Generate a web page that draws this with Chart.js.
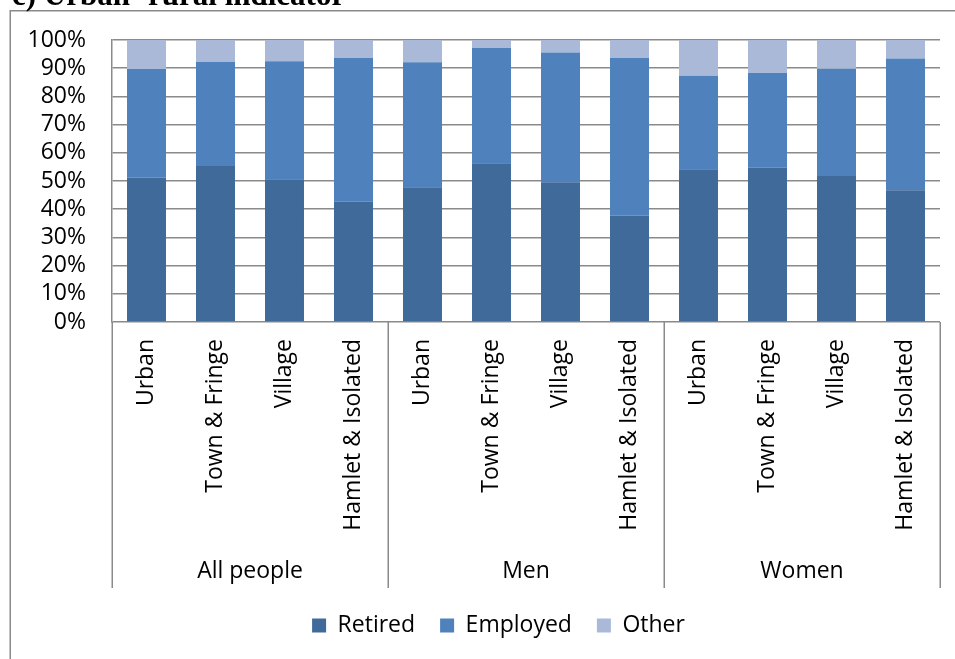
<!DOCTYPE html>
<html><head><meta charset="utf-8">
<script src="https://cdn.jsdelivr.net/npm/chart.js@4/dist/chart.umd.min.js"></script>
<style>html,body{margin:0;padding:0;background:#fff}canvas{display:block}</style>
</head><body>
<canvas id="c" width="955" height="659"></canvas>
<script>
const chartTitle = 'c) Urban- rural indicator';
const categories = ['Urban','Town & Fringe','Village','Hamlet & Isolated',
                    'Urban','Town & Fringe','Village','Hamlet & Isolated',
                    'Urban','Town & Fringe','Village','Hamlet & Isolated'];
const groups = ['All people','Men','Women'];
const seriesNames = ['Retired','Employed','Other'];
const retired  = [51.2,55.3,50.6,42.6, 47.8,56.3,49.6,37.8, 54.2,54.7,51.8,46.7];
const employed = [38.5,36.9,41.9,51.0, 44.3,40.9,46.0,55.8, 33.1,33.6,38.0,46.7];
const other    = [10.3, 7.8, 7.5, 6.4,  7.9, 2.8, 4.4, 6.4, 12.7,11.7,10.2, 6.6];
const yMin = 0, yMax = 100, yStep = 10;

const colors = ['#3F6A9A','#4F81BD','#AAB9D7'];
const gray = '#8a8a8a';

Chart.defaults.font.family = '"Open Sans", "Noto Sans", sans-serif';
Chart.defaults.font.size = 23;
Chart.defaults.color = '#000';

const frame = {
  id: 'frame',
  afterLayout(chart) {
    // centre the legend row under the reference position
    chart.legend.left += 24;
    chart.legend.right += 24;
  },
  beforeDraw(chart) {
    const ctx = chart.ctx;
    ctx.save();
    ctx.fillStyle = '#fff';
    ctx.fillRect(0, 0, chart.width, chart.height);
    ctx.strokeStyle = gray;
    ctx.lineWidth = 1.5;
    ctx.beginPath();
    ctx.moveTo(10.25, chart.height);
    ctx.lineTo(10.25, 10.75);
    ctx.lineTo(chart.width, 10.75);
    ctx.stroke();
    ctx.fillStyle = '#000';
    ctx.font = 'bold 31px "Liberation Serif", "DejaVu Serif", serif';
    ctx.textBaseline = 'alphabetic';
    ctx.textAlign = 'left';
    ctx.fillText(chartTitle, 12, 5);
    ctx.restore();
  },
  afterDraw(chart) {
    const x = chart.scales.x, x2 = chart.scales.x2, ctx = chart.ctx;
    const per = categories.length / groups.length;
    ctx.save();
    ctx.strokeStyle = gray;
    ctx.lineWidth = 1.5;
    ctx.beginPath();
    for (let g = 0; g <= groups.length; g++) {
      const px = Math.round(x.getPixelForValue(g * per - 0.5)) + 0.25;
      ctx.moveTo(px, x.top);
      ctx.lineTo(px, x2.top + 36);
    }
    ctx.stroke();
    ctx.restore();
  }
};

new Chart(document.getElementById('c'), {
  type: 'bar',
  data: {
    labels: categories,
    datasets: [
      {label: seriesNames[0], data: retired,  backgroundColor: colors[0]},
      {label: seriesNames[1], data: employed, backgroundColor: colors[1]},
      {label: seriesNames[2], data: other,    backgroundColor: colors[2]}
    ]
  },
  options: {
    responsive: false,
    animation: false,
    devicePixelRatio: 1,
    categoryPercentage: 1,
    barPercentage: 0.565,
    layout: {padding: {left: 9, right: 15, top: 40, bottom: 12}},
    plugins: {
      legend: {position: 'bottom', labels: {boxWidth: 14, boxHeight: 14, padding: 25, font: {size: 23}, color: '#000'}},
      tooltip: {enabled: false}
    },
    scales: {
      x: {
        stacked: true,
        grid: {display: false},
        border: {display: false},
        ticks: {minRotation: 90, maxRotation: 90, autoSkip: false, padding: 9, font: {size: 23}, color: '#000'},
        afterFit(s) { s.height = 230; }
      },
      x2: {
        type: 'category',
        labels: groups,
        offset: true,
        position: 'bottom',
        grid: {display: false},
        border: {display: false},
        ticks: {padding: -2, font: {size: 23}, color: '#000'},
        afterFit(s) { s.height = 37; }
      },
      y: {
        stacked: true,
        min: yMin, max: yMax,
        grid: {color: gray, lineWidth: 1.5, drawTicks: false},
        border: {color: gray, width: 1.5},
        ticks: {stepSize: yStep, autoSkip: false, padding: 26, font: {size: 23}, color: '#000', callback: v => v + '%'},
        afterFit(s) { s.width = 103; }
      }
    }
  },
  plugins: [frame]
});
</script>
</body></html>
